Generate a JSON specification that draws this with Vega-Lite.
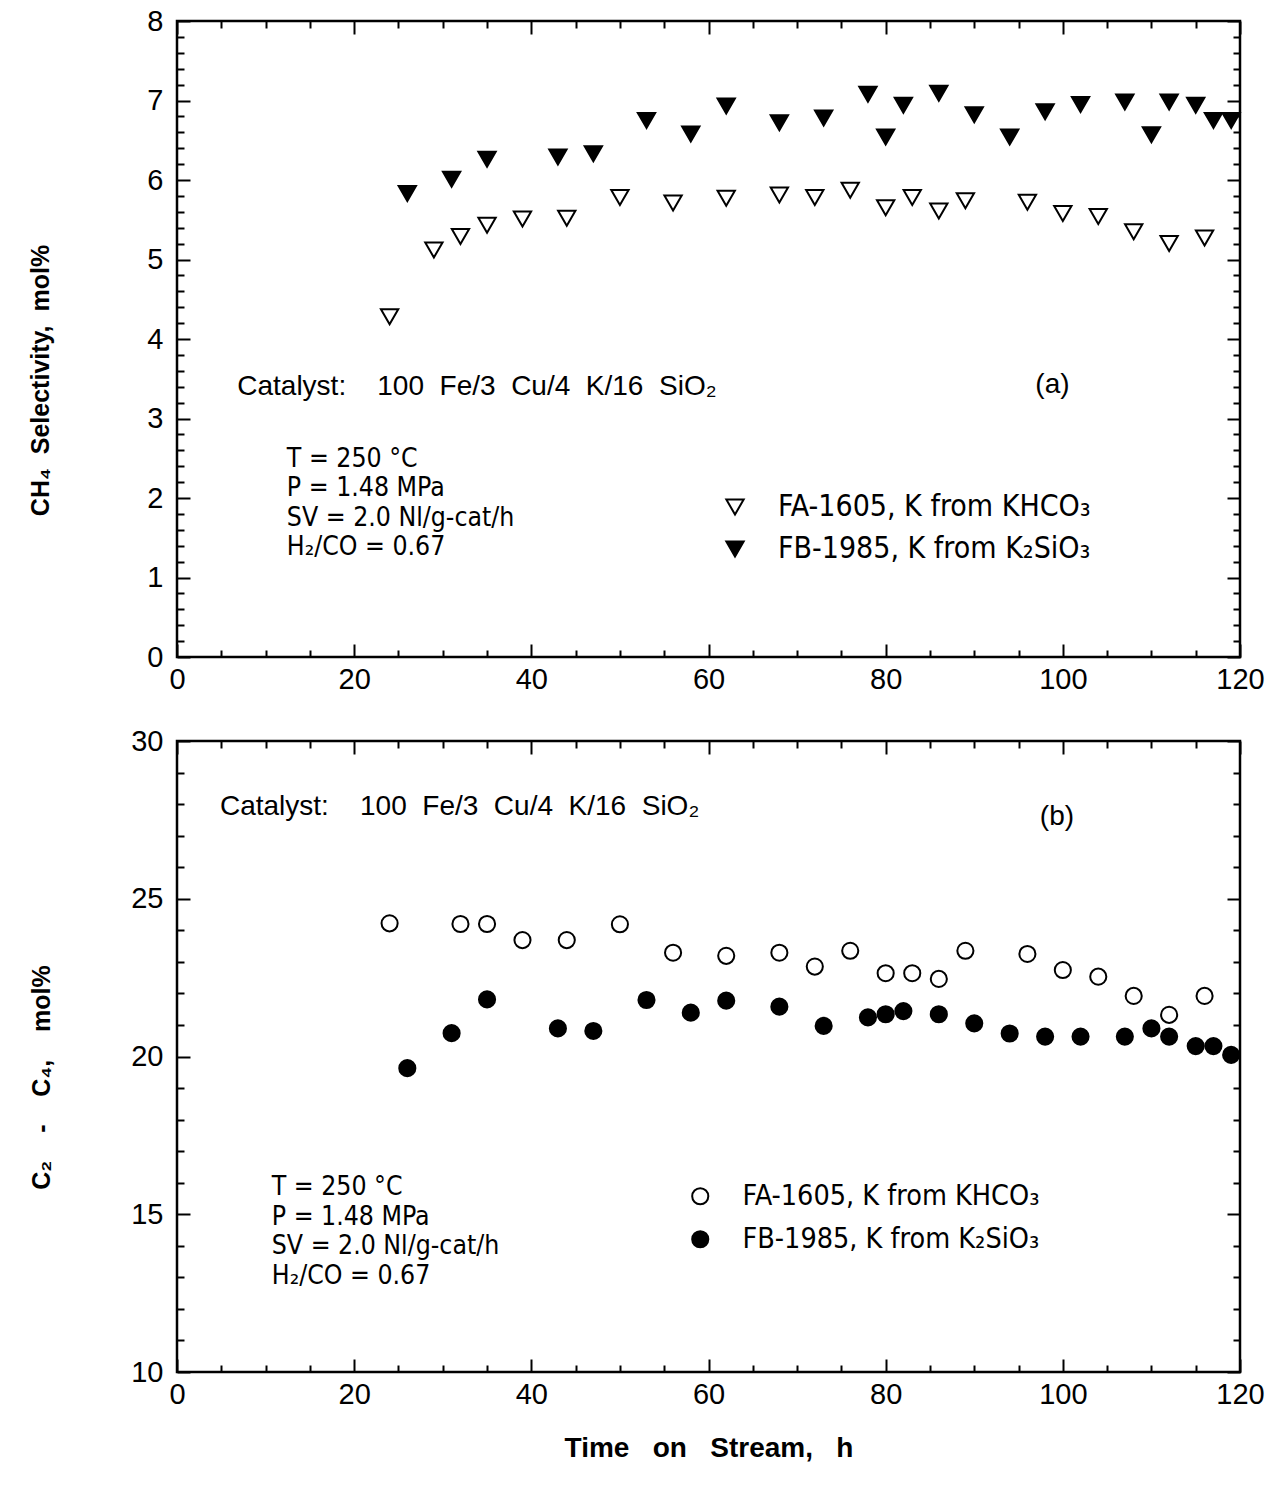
{
  "$schema": "https://vega.github.io/schema/vega-lite/v6.json",
  "background": "white",
  "padding": {"left": 27, "top": 5, "right": 20, "bottom": 10},
  "spacing": 29,
  "resolve": {"scale": {"fill": "independent"}, "legend": {"fill": "independent"}},
  "config": {
    "view": {"stroke": "black", "strokeWidth": 2.5},
    "font": "Liberation Sans",
    "axis": {
      "grid": false, "domain": false, "tickColor": "black", "tickWidth": 2,
      "labelColor": "black", "labelFont": "Liberation Sans", "labelFontSize": 29,
      "labelFlush": false, "labelOverlap": false,
      "titleColor": "black", "titleFont": "Liberation Sans", "titleFontSize": 25, "titleFontWeight": "bold"
    },
    "legend": {"title": null, "labelColor": "black", "labelFont": "DejaVu Sans Condensed", "labelLimit": 0, "symbolStrokeColor": "black", "symbolStrokeWidth": 2, "labelOffset": 28}
  },
  "datasets": {
    "ch4": [
      {"t": 24, "v": 4.28, "s": "FA-1605, K from KHCO₃"},
      {"t": 29, "v": 5.12, "s": "FA-1605, K from KHCO₃"},
      {"t": 32, "v": 5.29, "s": "FA-1605, K from KHCO₃"},
      {"t": 35, "v": 5.43, "s": "FA-1605, K from KHCO₃"},
      {"t": 39, "v": 5.51, "s": "FA-1605, K from KHCO₃"},
      {"t": 44, "v": 5.52, "s": "FA-1605, K from KHCO₃"},
      {"t": 50, "v": 5.78, "s": "FA-1605, K from KHCO₃"},
      {"t": 56, "v": 5.71, "s": "FA-1605, K from KHCO₃"},
      {"t": 62, "v": 5.77, "s": "FA-1605, K from KHCO₃"},
      {"t": 68, "v": 5.81, "s": "FA-1605, K from KHCO₃"},
      {"t": 72, "v": 5.78, "s": "FA-1605, K from KHCO₃"},
      {"t": 76, "v": 5.87, "s": "FA-1605, K from KHCO₃"},
      {"t": 80, "v": 5.65, "s": "FA-1605, K from KHCO₃"},
      {"t": 83, "v": 5.78, "s": "FA-1605, K from KHCO₃"},
      {"t": 86, "v": 5.61, "s": "FA-1605, K from KHCO₃"},
      {"t": 89, "v": 5.74, "s": "FA-1605, K from KHCO₃"},
      {"t": 96, "v": 5.72, "s": "FA-1605, K from KHCO₃"},
      {"t": 100, "v": 5.58, "s": "FA-1605, K from KHCO₃"},
      {"t": 104, "v": 5.54, "s": "FA-1605, K from KHCO₃"},
      {"t": 108, "v": 5.35, "s": "FA-1605, K from KHCO₃"},
      {"t": 112, "v": 5.20, "s": "FA-1605, K from KHCO₃"},
      {"t": 116, "v": 5.27, "s": "FA-1605, K from KHCO₃"},
      {"t": 26, "v": 5.83, "s": "FB-1985, K from K₂SiO₃"},
      {"t": 31, "v": 6.01, "s": "FB-1985, K from K₂SiO₃"},
      {"t": 35, "v": 6.26, "s": "FB-1985, K from K₂SiO₃"},
      {"t": 43, "v": 6.29, "s": "FB-1985, K from K₂SiO₃"},
      {"t": 47, "v": 6.33, "s": "FB-1985, K from K₂SiO₃"},
      {"t": 53, "v": 6.75, "s": "FB-1985, K from K₂SiO₃"},
      {"t": 58, "v": 6.58, "s": "FB-1985, K from K₂SiO₃"},
      {"t": 62, "v": 6.93, "s": "FB-1985, K from K₂SiO₃"},
      {"t": 68, "v": 6.72, "s": "FB-1985, K from K₂SiO₃"},
      {"t": 73, "v": 6.78, "s": "FB-1985, K from K₂SiO₃"},
      {"t": 78, "v": 7.08, "s": "FB-1985, K from K₂SiO₃"},
      {"t": 80, "v": 6.54, "s": "FB-1985, K from K₂SiO₃"},
      {"t": 82, "v": 6.94, "s": "FB-1985, K from K₂SiO₃"},
      {"t": 86, "v": 7.09, "s": "FB-1985, K from K₂SiO₃"},
      {"t": 90, "v": 6.82, "s": "FB-1985, K from K₂SiO₃"},
      {"t": 94, "v": 6.54, "s": "FB-1985, K from K₂SiO₃"},
      {"t": 98, "v": 6.86, "s": "FB-1985, K from K₂SiO₃"},
      {"t": 102, "v": 6.95, "s": "FB-1985, K from K₂SiO₃"},
      {"t": 107, "v": 6.98, "s": "FB-1985, K from K₂SiO₃"},
      {"t": 110, "v": 6.57, "s": "FB-1985, K from K₂SiO₃"},
      {"t": 112, "v": 6.98, "s": "FB-1985, K from K₂SiO₃"},
      {"t": 115, "v": 6.94, "s": "FB-1985, K from K₂SiO₃"},
      {"t": 117, "v": 6.75, "s": "FB-1985, K from K₂SiO₃"},
      {"t": 119, "v": 6.75, "s": "FB-1985, K from K₂SiO₃"}
    ],
    "c24": [
      {"t": 24, "v": 24.22, "s": "FA-1605, K from KHCO₃"},
      {"t": 32, "v": 24.20, "s": "FA-1605, K from KHCO₃"},
      {"t": 35, "v": 24.20, "s": "FA-1605, K from KHCO₃"},
      {"t": 39, "v": 23.69, "s": "FA-1605, K from KHCO₃"},
      {"t": 44, "v": 23.69, "s": "FA-1605, K from KHCO₃"},
      {"t": 50, "v": 24.19, "s": "FA-1605, K from KHCO₃"},
      {"t": 56, "v": 23.29, "s": "FA-1605, K from KHCO₃"},
      {"t": 62, "v": 23.19, "s": "FA-1605, K from KHCO₃"},
      {"t": 68, "v": 23.29, "s": "FA-1605, K from KHCO₃"},
      {"t": 72, "v": 22.85, "s": "FA-1605, K from KHCO₃"},
      {"t": 76, "v": 23.35, "s": "FA-1605, K from KHCO₃"},
      {"t": 80, "v": 22.64, "s": "FA-1605, K from KHCO₃"},
      {"t": 83, "v": 22.64, "s": "FA-1605, K from KHCO₃"},
      {"t": 86, "v": 22.46, "s": "FA-1605, K from KHCO₃"},
      {"t": 89, "v": 23.35, "s": "FA-1605, K from KHCO₃"},
      {"t": 96, "v": 23.25, "s": "FA-1605, K from KHCO₃"},
      {"t": 100, "v": 22.74, "s": "FA-1605, K from KHCO₃"},
      {"t": 104, "v": 22.53, "s": "FA-1605, K from KHCO₃"},
      {"t": 108, "v": 21.92, "s": "FA-1605, K from KHCO₃"},
      {"t": 112, "v": 21.32, "s": "FA-1605, K from KHCO₃"},
      {"t": 116, "v": 21.92, "s": "FA-1605, K from KHCO₃"},
      {"t": 26, "v": 19.63, "s": "FB-1985, K from K₂SiO₃"},
      {"t": 31, "v": 20.74, "s": "FB-1985, K from K₂SiO₃"},
      {"t": 35, "v": 21.81, "s": "FB-1985, K from K₂SiO₃"},
      {"t": 43, "v": 20.89, "s": "FB-1985, K from K₂SiO₃"},
      {"t": 47, "v": 20.81, "s": "FB-1985, K from K₂SiO₃"},
      {"t": 53, "v": 21.79, "s": "FB-1985, K from K₂SiO₃"},
      {"t": 58, "v": 21.39, "s": "FB-1985, K from K₂SiO₃"},
      {"t": 62, "v": 21.77, "s": "FB-1985, K from K₂SiO₃"},
      {"t": 68, "v": 21.58, "s": "FB-1985, K from K₂SiO₃"},
      {"t": 73, "v": 20.97, "s": "FB-1985, K from K₂SiO₃"},
      {"t": 78, "v": 21.24, "s": "FB-1985, K from K₂SiO₃"},
      {"t": 80, "v": 21.34, "s": "FB-1985, K from K₂SiO₃"},
      {"t": 82, "v": 21.44, "s": "FB-1985, K from K₂SiO₃"},
      {"t": 86, "v": 21.34, "s": "FB-1985, K from K₂SiO₃"},
      {"t": 90, "v": 21.05, "s": "FB-1985, K from K₂SiO₃"},
      {"t": 94, "v": 20.73, "s": "FB-1985, K from K₂SiO₃"},
      {"t": 98, "v": 20.63, "s": "FB-1985, K from K₂SiO₃"},
      {"t": 102, "v": 20.63, "s": "FB-1985, K from K₂SiO₃"},
      {"t": 107, "v": 20.63, "s": "FB-1985, K from K₂SiO₃"},
      {"t": 110, "v": 20.89, "s": "FB-1985, K from K₂SiO₃"},
      {"t": 112, "v": 20.63, "s": "FB-1985, K from K₂SiO₃"},
      {"t": 115, "v": 20.33, "s": "FB-1985, K from K₂SiO₃"},
      {"t": 117, "v": 20.33, "s": "FB-1985, K from K₂SiO₃"},
      {"t": 119, "v": 20.05, "s": "FB-1985, K from K₂SiO₃"}
    ],
    "notesA": [
      {"t": 6.8, "v": 3.30, "label": "Catalyst:\u00a0\u00a0\u00a0 100\u00a0 Fe/3\u00a0 Cu/4\u00a0 K/16\u00a0 SiO₂"},
      {"t": 96.9, "v": 3.32, "label": "(a)"}
    ],
    "condA": [
      {"t": 12.4, "v": 2.39, "label": "T = 250 °C\nP = 1.48 MPa\nSV = 2.0 Nl/g-cat/h\nH₂/CO = 0.67"}
    ],
    "notesB": [
      {"t": 4.85, "v": 27.65, "label": "Catalyst:\u00a0\u00a0\u00a0 100\u00a0 Fe/3\u00a0 Cu/4\u00a0 K/16\u00a0 SiO₂"},
      {"t": 97.4, "v": 27.34, "label": "(b)"}
    ],
    "condB": [
      {"t": 10.7, "v": 15.61, "label": "T = 250 °C\nP = 1.48 MPa\nSV = 2.0 Nl/g-cat/h\nH₂/CO = 0.67"}
    ]
  },
  "vconcat": [
    {
      "width": 1063,
      "height": 636,
      "resolve": {"axis": {"x": "independent", "y": "independent"}},
      "layer": [
        {
          "data": {"name": "ch4"},
          "mark": {"type": "point", "filled": true, "shape": "triangle-down", "size": 300, "stroke": "black", "strokeWidth": 2, "opacity": 1},
          "encoding": {
            "x": {"field": "t", "type": "quantitative", "scale": {"domain": [0, 120], "nice": false, "zero": false},
              "axis": {"orient": "bottom", "values": [0, 20, 40, 60, 80, 100, 120], "tickSize": -13, "labelPadding": 21, "title": null}},
            "y": {"field": "v", "type": "quantitative", "scale": {"domain": [0, 8], "nice": false},
              "axis": {"orient": "left", "values": [0, 1, 2, 3, 4, 5, 6, 7, 8], "tickSize": -13, "labelPadding": 27, "title": "CH₄\u00a0 Selectivity,\u00a0 mol%", "titlePadding": 93, "titleY": 359}},
            "fill": {"field": "s", "type": "nominal",
              "scale": {"domain": ["FA-1605, K from KHCO₃", "FB-1985, K from K₂SiO₃"], "range": ["transparent", "black"]},
              "legend": {"orient": "none", "legendX": 543, "legendY": 471, "symbolType": "triangle-down", "symbolSize": 300, "rowPadding": 12, "labelFontSize": 30}}
          }
        },
        {
          "data": {"name": "notesA"},
          "mark": {"type": "text", "align": "left", "baseline": "alphabetic", "fontSize": 28, "font": "Liberation Sans", "color": "black"},
          "encoding": {
            "x": {"field": "t", "type": "quantitative", "axis": {"orient": "top", "values": [0, 20, 40, 60, 80, 100, 120], "tickSize": -13, "labels": false, "title": null}},
            "y": {"field": "v", "type": "quantitative", "axis": {"orient": "right", "values": [0, 1, 2, 3, 4, 5, 6, 7, 8], "tickSize": -13, "labels": false, "title": null}},
            "text": {"field": "label"}
          }
        },
        {
          "data": {"name": "condA"},
          "mark": {"type": "text", "align": "left", "baseline": "alphabetic", "fontSize": 26.4, "lineBreak": "\n", "lineHeight": 29.5, "font": "DejaVu Sans Condensed", "color": "black"},
          "encoding": {
            "x": {"field": "t", "type": "quantitative", "axis": {"orient": "bottom", "values": [5, 10, 15, 25, 30, 35, 45, 50, 55, 65, 70, 75, 85, 90, 95, 105, 110, 115], "tickSize": -7, "labels": false, "title": null}},
            "y": {"field": "v", "type": "quantitative", "axis": {"orient": "left", "values": [0.2, 0.4, 0.6, 0.8, 1.2, 1.4, 1.6, 1.8, 2.2, 2.4, 2.6, 2.8, 3.2, 3.4, 3.6, 3.8, 4.2, 4.4, 4.6, 4.8, 5.2, 5.4, 5.6, 5.8, 6.2, 6.4, 6.6, 6.8, 7.2, 7.4, 7.6, 7.8], "tickSize": -7, "labels": false, "title": null}},
            "text": {"field": "label"}
          }
        },
        {
          "data": {"name": "ch4"},
          "mark": {"type": "point", "opacity": 0},
          "encoding": {
            "x": {"field": "t", "type": "quantitative", "axis": {"orient": "top", "values": [5, 10, 15, 25, 30, 35, 45, 50, 55, 65, 70, 75, 85, 90, 95, 105, 110, 115], "tickSize": -7, "labels": false, "title": null}},
            "y": {"field": "v", "type": "quantitative", "axis": {"orient": "right", "values": [0.2, 0.4, 0.6, 0.8, 1.2, 1.4, 1.6, 1.8, 2.2, 2.4, 2.6, 2.8, 3.2, 3.4, 3.6, 3.8, 4.2, 4.4, 4.6, 4.8, 5.2, 5.4, 5.6, 5.8, 6.2, 6.4, 6.6, 6.8, 7.2, 7.4, 7.6, 7.8], "tickSize": -7, "labels": false, "title": null}}
          }
        }
      ]
    },
    {
      "width": 1063,
      "height": 631,
      "resolve": {"axis": {"x": "independent", "y": "independent"}},
      "layer": [
        {
          "data": {"name": "c24"},
          "mark": {"type": "point", "filled": true, "shape": "circle", "size": 260, "stroke": "black", "strokeWidth": 2, "opacity": 1},
          "encoding": {
            "x": {"field": "t", "type": "quantitative", "scale": {"domain": [0, 120], "nice": false, "zero": false},
              "axis": {"orient": "bottom", "values": [0, 20, 40, 60, 80, 100, 120], "tickSize": -13, "labelPadding": 21, "title": "Time\u00a0\u00a0 on\u00a0\u00a0 Stream,\u00a0\u00a0 h", "titleFontSize": 28, "titlePadding": 25}},
            "y": {"field": "v", "type": "quantitative", "scale": {"domain": [10, 30], "nice": false, "zero": false},
              "axis": {"orient": "left", "values": [10, 15, 20, 25, 30], "tickSize": -13, "labelPadding": 27, "title": "C₂\u00a0\u00a0\u00a0 -\u00a0\u00a0\u00a0 C₄,\u00a0\u00a0\u00a0 mol%", "titlePadding": 76.5, "titleY": 336}},
            "fill": {"field": "s", "type": "nominal",
              "scale": {"domain": ["FA-1605, K from KHCO₃", "FB-1985, K from K₂SiO₃"], "range": ["transparent", "black"]},
              "legend": {"orient": "none", "legendX": 509, "legendY": 441, "symbolType": "circle", "symbolSize": 260, "rowPadding": 14, "labelFontSize": 28.5}}
          }
        },
        {
          "data": {"name": "notesB"},
          "mark": {"type": "text", "align": "left", "baseline": "alphabetic", "fontSize": 28, "font": "Liberation Sans", "color": "black"},
          "encoding": {
            "x": {"field": "t", "type": "quantitative", "axis": {"orient": "top", "values": [0, 20, 40, 60, 80, 100, 120], "tickSize": -13, "labels": false, "title": null}},
            "y": {"field": "v", "type": "quantitative", "axis": {"orient": "right", "values": [10, 15, 20, 25, 30], "tickSize": -13, "labels": false, "title": null}},
            "text": {"field": "label"}
          }
        },
        {
          "data": {"name": "condB"},
          "mark": {"type": "text", "align": "left", "baseline": "alphabetic", "fontSize": 26.4, "lineBreak": "\n", "lineHeight": 29.5, "font": "DejaVu Sans Condensed", "color": "black"},
          "encoding": {
            "x": {"field": "t", "type": "quantitative", "axis": {"orient": "bottom", "values": [5, 10, 15, 25, 30, 35, 45, 50, 55, 65, 70, 75, 85, 90, 95, 105, 110, 115], "tickSize": -7, "labels": false, "title": null}},
            "y": {"field": "v", "type": "quantitative", "axis": {"orient": "left", "values": [11, 12, 13, 14, 16, 17, 18, 19, 21, 22, 23, 24, 26, 27, 28, 29], "tickSize": -7, "labels": false, "title": null}},
            "text": {"field": "label"}
          }
        },
        {
          "data": {"name": "c24"},
          "mark": {"type": "point", "opacity": 0},
          "encoding": {
            "x": {"field": "t", "type": "quantitative", "axis": {"orient": "top", "values": [5, 10, 15, 25, 30, 35, 45, 50, 55, 65, 70, 75, 85, 90, 95, 105, 110, 115], "tickSize": -7, "labels": false, "title": null}},
            "y": {"field": "v", "type": "quantitative", "axis": {"orient": "right", "values": [11, 12, 13, 14, 16, 17, 18, 19, 21, 22, 23, 24, 26, 27, 28, 29], "tickSize": -7, "labels": false, "title": null}}
          }
        }
      ]
    }
  ]
}
